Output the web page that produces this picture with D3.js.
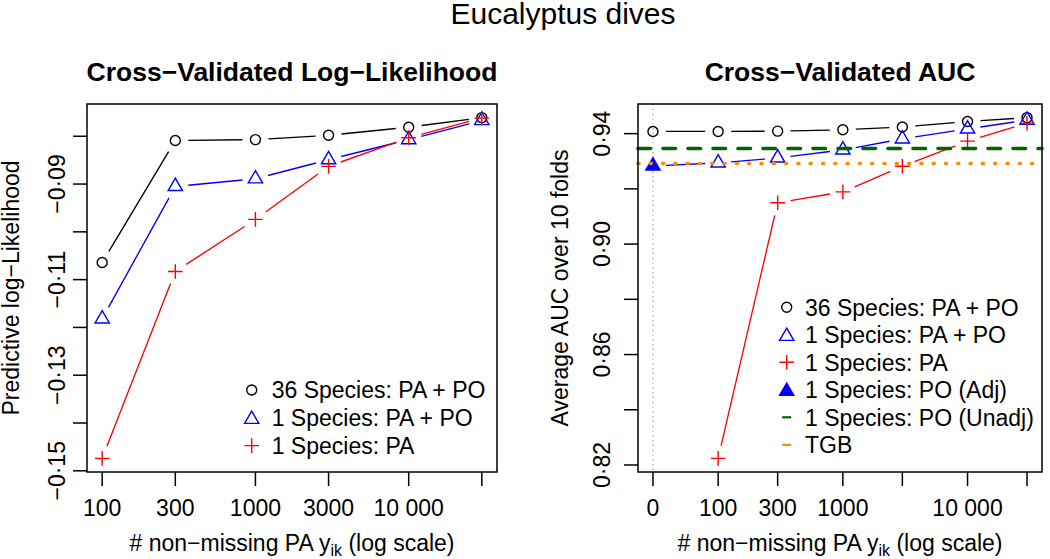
<!DOCTYPE html>
<html><head><meta charset="utf-8">
<script src="https://cdn.jsdelivr.net/npm/d3@7"></script>
<style>
body{margin:0;background:#fff}
svg{display:block;font-family:"Liberation Sans",Arial,Helvetica,sans-serif}
</style>
</head><body>
<svg id="c" width="1050" height="559"></svg>
<script>
// ---------- DATA ----------
const mainTitle = "Eucalyptus dives";
const llTitle = "Cross\u2212Validated Log\u2212Likelihood";
const aucTitle = "Cross\u2212Validated AUC";
const llYLabel = "Predictive log\u2212Likelihood";
const aucYLabel = "Average AUC over 10 folds";

// left panel (log-likelihood)
const llN = [100, 300, 1000, 3000, 10000, 30000];
const llXTickLabels = ["100", "300", "1000", "3000", "10 000", ""];
const llMulti = [-0.1064, -0.0809, -0.0807, -0.0798, -0.0781, -0.0761];
const llSinglePAPO = [-0.1182, -0.0905, -0.0889, -0.0849, -0.0807, -0.0767];
const llSinglePA = [-0.1474, -0.1083, -0.0974, -0.0863, -0.0803, -0.0762];
const llYTicks = [-0.15, -0.14, -0.13, -0.12, -0.11, -0.10, -0.09, -0.08];
const llYTickLabels = ["\u22120\u00b715", "", "\u22120\u00b713", "", "\u22120\u00b711", "", "\u22120\u00b709", ""];

// right panel (AUC); "0" is plotted at pseudo-position 30 on the log axis
const aucN = [0, 100, 300, 1000, 3000, 10000, 30000];
const zeroAt = 30;
const aucXTickLabels = ["0", "100", "300", "1000", "", "10 000", ""];
const aucMulti = [0.9408, 0.9408, 0.9409, 0.9414, 0.9424, 0.9444, 0.9458];
const aucSinglePAPO = [0.9283, 0.9294, 0.9312, 0.9341, 0.9381, 0.9417, 0.9449]; // first = PO (Adj)
const aucSinglePA = [null, 0.8224, 0.9150, 0.9189, 0.9282, 0.9373, 0.9438];
const aucPOUnadj = 0.9346;
const aucTGB = 0.9292;
const aucYTicks = [0.82, 0.84, 0.86, 0.88, 0.90, 0.92, 0.94];
const aucYTickLabels = ["0\u00b782", "", "0\u00b786", "", "0\u00b790", "", "0\u00b794"];

const legendLL = ["36 Species: PA + PO", "1 Species: PA + PO", "1 Species: PA"];
const legendAUC = ["36 Species: PA + PO", "1 Species: PA + PO", "1 Species: PA",
  "1 Species: PO (Adj)", "1 Species: PO (Unadj)", "TGB"];

// ---------- STYLE ----------
const C = {black:"#000000", blue:"#0000FF", red:"#FF0000", green:"#006400", orange:"#FF8C00", grey:"#9a9a9a"};
const FS = 23;
const svg = d3.select("#c");

function padLog(a, b){const lo=Math.log10(a),hi=Math.log10(b),s=hi-lo;return [10**(lo-0.04*s),10**(hi+0.04*s)];}
function padLin(vals){const v=vals.filter(d=>d!=null);const [a,b]=d3.extent(v);const s=b-a;return [a-0.04*s,b+0.04*s];}

const S = 5.3; // symbol base size
function drawCircle(g,x,y,col){g.append("circle").attr("cx",x).attr("cy",y).attr("r",5).attr("fill","none").attr("stroke",col).attr("stroke-width",1.4);}
function drawTri(g,x,y,col,filled){
  const r=1.555*S, xc=1.347*S, yc=0.778*S;
  g.append("path").attr("d",`M${x},${y-r}L${x+xc},${y+yc}L${x-xc},${y+yc}Z`)
   .attr("fill",filled?col:"none").attr("stroke",col).attr("stroke-width",1.4).attr("stroke-linejoin","miter");
}
function drawPlus(g,x,y,col){const h=7.3;g.append("path").attr("d",`M${x-h},${y}H${x+h}M${x},${y-h}V${y+h}`).attr("stroke",col).attr("stroke-width",1.4).attr("fill","none");}

function drawSeries(g, xs, ys, xS, yS, col, markerFn){
  const pts = xs.map((x,i)=>ys[i]==null?null:[xS(x), yS(ys[i]), i]).filter(d=>d);
  const gap = 13;
  for(let i=0;i<pts.length-1;i++){
    const [x1,y1]=pts[i],[x2,y2]=pts[i+1];
    const dx=x2-x1, dy=y2-y1, d=Math.hypot(dx,dy);
    if(d<=2*gap) continue;
    const ux=dx/d, uy=dy/d;
    g.append("line").attr("x1",x1+ux*gap).attr("y1",y1+uy*gap).attr("x2",x2-ux*gap).attr("y2",y2-uy*gap)
      .attr("stroke",col).attr("stroke-width",1.35);
  }
  pts.forEach(p=>markerFn(g,p[0],p[1],p[2]));
}

function frame(box, xS, yS, xTickVals, xTickLabels, yTickVals, yTickLabels, yLabX, title, yTitle, yTitleX){
  const g = svg.append("g");
  xTickVals.forEach((v,i)=>{
    const x = xS(v);
    g.append("line").attr("x1",x).attr("x2",x).attr("y1",box.y1).attr("y2",box.y1+14).attr("stroke","#000").attr("stroke-width",1.5);
    if(xTickLabels[i]) g.append("text").attr("x",x).attr("y",516).attr("text-anchor","middle").attr("font-size",FS).text(xTickLabels[i]);
  });
  yTickVals.forEach((v,i)=>{
    const y = yS(v);
    g.append("line").attr("x1",box.x0-14).attr("x2",box.x0).attr("y1",y).attr("y2",y).attr("stroke","#000").attr("stroke-width",1.5);
    if(yTickLabels[i]) g.append("text").attr("transform",`translate(${yLabX},${y}) rotate(-90)`)
      .attr("text-anchor","middle").attr("dy","0.36em").attr("font-size",FS).text(yTickLabels[i]);
  });
  const cx=(box.x0+box.x1)/2, cy=(box.y0+box.y1)/2;
  g.append("text").attr("x",cx).attr("y",81).attr("text-anchor","middle").attr("font-size",26.5).attr("font-weight","bold").text(title);
  const xt = g.append("text").attr("x",cx).attr("y",551).attr("text-anchor","middle").attr("font-size",FS);
  xt.append("tspan").text("# non\u2212missing PA y");
  xt.append("tspan").attr("font-size",16).attr("dy",5).text("ik");
  xt.append("tspan").attr("dy",-5).text(" (log scale)");
  g.append("text").attr("transform",`translate(${yTitleX},${cy}) rotate(-90)`).attr("text-anchor","middle").attr("font-size",FS).text(yTitle);
  return g;
}
function boxRect(box){
  svg.append("rect").attr("x",box.x0).attr("y",box.y0).attr("width",box.x1-box.x0).attr("height",box.y1-box.y0)
    .attr("fill","none").attr("stroke","#000").attr("stroke-width",1.5);
}

// ---------- MAIN TITLE ----------
svg.append("text").attr("x",563).attr("y",24).attr("text-anchor","middle").attr("font-size",30).text(mainTitle);

// ---------- LEFT PANEL ----------
const boxL = {x0:87, x1:497, y0:104, y1:472};
const xL = d3.scaleLog().domain(padLog(llN[0], llN[llN.length-1])).range([boxL.x0, boxL.x1]);
const yL = d3.scaleLinear().domain(padLin([...llMulti,...llSinglePAPO,...llSinglePA])).range([boxL.y1, boxL.y0]);
frame(boxL, xL, yL, llN, llXTickLabels, llYTicks, llYTickLabels, 57, llTitle, llYLabel, 19);
const pL = svg.append("g");
drawSeries(pL, llN, llMulti, xL, yL, C.black, (g,x,y)=>drawCircle(g,x,y,C.black));
drawSeries(pL, llN, llSinglePAPO, xL, yL, C.blue, (g,x,y)=>drawTri(g,x,y,C.blue,false));
drawSeries(pL, llN, llSinglePA, xL, yL, C.red, (g,x,y)=>drawPlus(g,x,y,C.red));
boxRect(boxL);
const legL = svg.append("g");
legendLL.forEach((t,i)=>{
  const y = 390 + i*27.8;
  if(i===0) drawCircle(legL,251.7,y,C.black);
  if(i===1) drawTri(legL,251.7,y+1.5,C.blue,false);
  if(i===2) drawPlus(legL,251.7,y,C.red);
  legL.append("text").attr("x",271.7).attr("y",y+8.2).attr("font-size",FS).text(t);
});

// ---------- RIGHT PANEL ----------
const boxR = {x0:638, x1:1042, y0:104, y1:472};
const posR = aucN.map(n=>n===0?zeroAt:n);
const xR = d3.scaleLog().domain(padLog(posR[0], posR[posR.length-1])).range([boxR.x0, boxR.x1]);
const yR = d3.scaleLinear().domain(padLin([...aucMulti,...aucSinglePAPO,...aucSinglePA])).range([boxR.y1, boxR.y0]);
frame(boxR, xR, yR, posR, aucXTickLabels, aucYTicks, aucYTickLabels, 602, aucTitle, aucYLabel, 568);
const pR = svg.append("g");
pR.append("line").attr("x1",xR(zeroAt)).attr("x2",xR(zeroAt)).attr("y1",boxR.y0).attr("y2",boxR.y1)
  .attr("stroke",C.grey).attr("stroke-width",1.2).attr("stroke-dasharray","1.2 3.6");
drawSeries(pR, posR, aucMulti, xR, yR, C.black, (g,x,y)=>drawCircle(g,x,y,C.black));
drawSeries(pR, posR, aucSinglePAPO, xR, yR, C.blue, (g,x,y,i)=>drawTri(g,x,y,C.blue,i===0));
drawSeries(pR, posR, aucSinglePA, xR, yR, C.red, (g,x,y)=>drawPlus(g,x,y,C.red));
pR.append("line").attr("x1",boxR.x0).attr("x2",boxR.x1).attr("y1",yR(aucPOUnadj)).attr("y2",yR(aucPOUnadj))
  .attr("stroke",C.green).attr("stroke-width",3.6).attr("stroke-dasharray","12.5 12.5").attr("stroke-linecap","round");
pR.append("line").attr("x1",boxR.x0).attr("x2",boxR.x1).attr("y1",yR(aucTGB)).attr("y2",yR(aucTGB))
  .attr("stroke",C.orange).attr("stroke-width",3.6).attr("stroke-dasharray","1 11.3").attr("stroke-linecap","round");
boxRect(boxR);
const legR = svg.append("g");
legendAUC.forEach((t,i)=>{
  const y = 307.3 + i*27.5;
  const sx = 786.7;
  if(i===0) drawCircle(legR,sx,y,C.black);
  if(i===1) drawTri(legR,sx,y+1.5,C.blue,false);
  if(i===2) drawPlus(legR,sx,y,C.red);
  if(i===3) drawTri(legR,sx,y+1.5,C.blue,true);
  if(i===4) legR.append("line").attr("x1",sx-4.5).attr("x2",sx+4.5).attr("y1",y).attr("y2",y).attr("stroke",C.green).attr("stroke-width",2.2);
  if(i===5) legR.append("line").attr("x1",sx-4.5).attr("x2",sx+4.5).attr("y1",y).attr("y2",y).attr("stroke",C.orange).attr("stroke-width",2.2);
  legR.append("text").attr("x",805).attr("y",y+8.2).attr("font-size",FS).text(t);
});
</script>
</body></html>
